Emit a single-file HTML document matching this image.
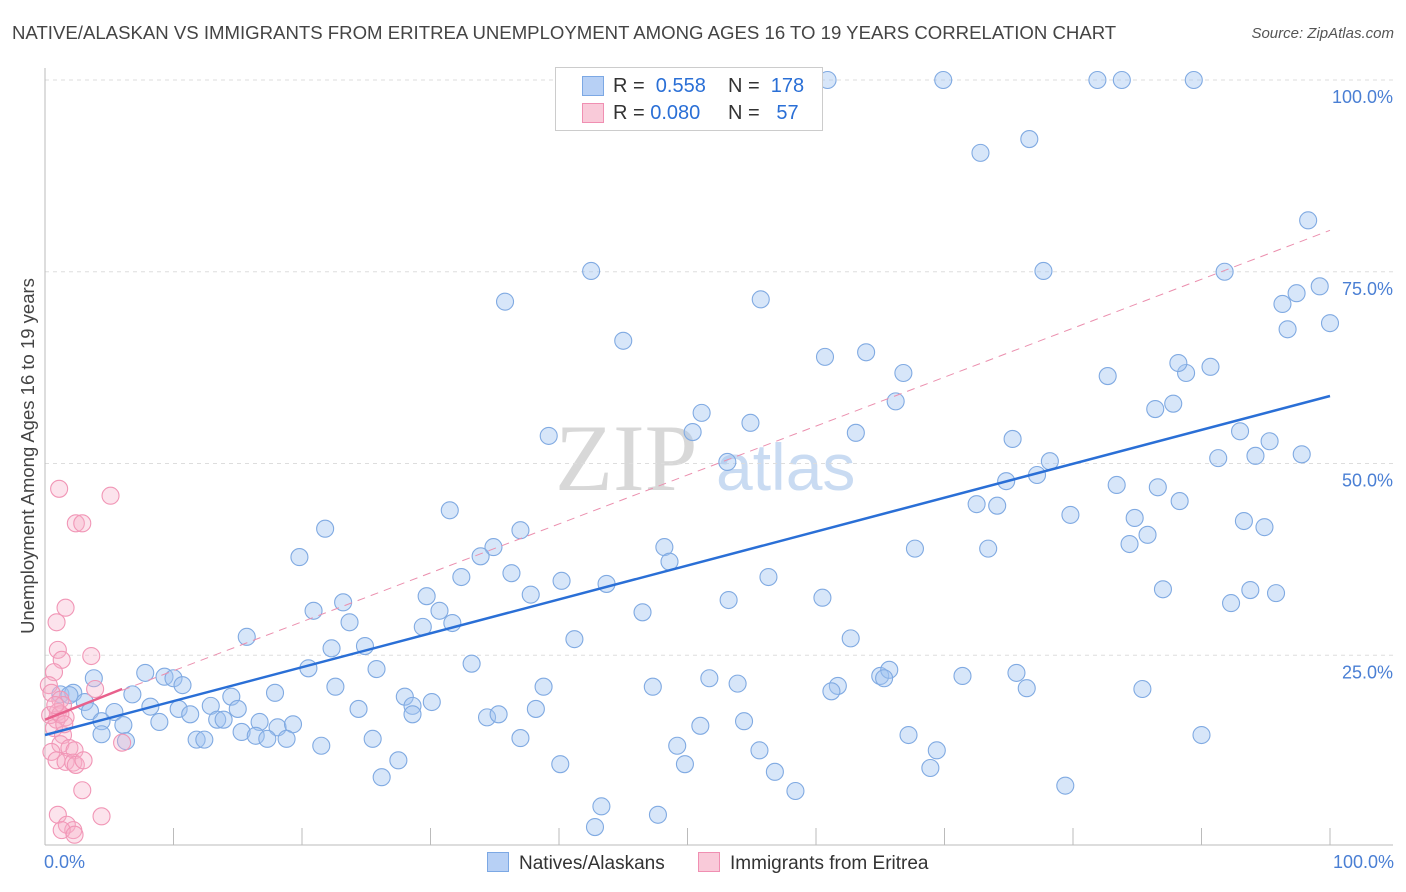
<!DOCTYPE html>
<html><head><meta charset="utf-8"><style>
body{margin:0;background:#fff;font-family:"Liberation Sans",sans-serif;}
#wrap{position:relative;width:1406px;height:892px;overflow:hidden;}
.t{position:absolute;white-space:nowrap;}
</style></head><body>
<div id="wrap">
<div class="t" style="left:12px;top:22px;font-size:18.6px;color:#444;">NATIVE/ALASKAN VS IMMIGRANTS FROM ERITREA UNEMPLOYMENT AMONG AGES 16 TO 19 YEARS CORRELATION CHART</div>
<div class="t" style="right:12px;top:25px;font-size:15px;color:#555;font-style:italic;">Source: ZipAtlas.com</div>
<svg id="plot" width="1406" height="892" style="position:absolute;left:0;top:0"></svg>
</div>
<script>
const xTicks=[0,10,20,30,40,50,60,70,80,90,100];
const yTicks=[25,50,75,100];
const yTickLabels=["25.0%","50.0%","75.0%","100.0%"];
const blueX=[42.5,35.8,45.0,55.7,69.9,81.9,83.8,89.4,72.8,76.6,98.3,77.7,91.8,99.2,97.4,96.3,96.7,100,60.7,63.9,66.8,66.2,82.7,88.8,88.2,90.7,87.8,86.4,51.1,50.4,54.9,53.1,39.2,63.1,75.3,78.2,77.2,74.8,93.0,95.3,91.3,94.2,97.8,83.4,86.6,88.3,72.5,74.1,79.8,84.8,84.4,85.8,93.3,94.9,67.7,73.4,31.5,37.0,34.9,33.9,21.8,19.8,48.2,48.6,32.4,36.3,40.2,43.7,56.3,53.2,60.5,87.0,92.3,93.8,95.8,23.2,20.9,29.7,30.7,37.8,31.7,29.4,23.7,46.5,41.2,15.7,22.3,24.9,62.7,33.2,25.8,20.5,7.8,9.3,10.0,3.8,10.7,17.9,22.6,38.8,47.3,51.7,53.9,61.7,61.2,65.0,65.7,65.3,71.4,75.6,76.4,85.4,6.8,1.2,2.2,1.9,3.1,3.5,5.4,8.2,10.4,11.3,12.9,14.5,15.0,24.4,28.0,28.6,28.6,30.1,38.2,34.4,35.3,13.4,13.9,6.1,4.4,8.9,16.7,18.1,19.3,15.3,4.4,6.3,11.8,12.4,16.4,17.3,18.8,21.5,25.5,37.0,49.2,55.6,51.0,54.4,67.2,69.4,90.0,27.5,26.2,40.1,49.8,56.8,68.9,58.4,79.4,43.3,42.8,47.7,52.2,60.9];
const blueY=[75.1,71.1,66.0,71.4,100,100,100,100,90.5,92.3,81.7,75.1,75.0,73.1,72.2,70.8,67.5,68.3,63.9,64.5,61.8,58.1,61.4,61.8,63.1,62.6,57.8,57.1,56.6,54.1,55.3,50.2,53.6,54.0,53.2,50.3,48.5,47.7,54.2,52.9,50.7,51.0,51.2,47.2,46.9,45.1,44.7,44.5,43.3,42.9,39.5,40.7,42.5,41.7,38.9,38.9,43.9,41.3,39.1,37.9,41.5,37.8,39.1,37.2,35.2,35.7,34.7,34.3,35.2,32.2,32.5,33.6,31.8,33.5,33.1,31.9,30.8,32.7,30.8,32.9,29.2,28.7,29.3,30.6,27.1,27.4,25.9,26.2,27.2,23.9,23.2,23.3,22.7,22.2,22.0,22.0,21.1,20.1,20.9,20.9,20.9,22.0,21.3,21.0,20.3,22.3,23.1,22.0,22.3,22.7,20.7,20.6,19.9,19.9,20.1,19.8,18.9,17.7,17.6,18.3,18.0,17.3,18.4,19.6,18.0,18.0,19.6,18.4,17.3,18.9,18.0,16.9,17.3,16.6,16.6,15.9,16.4,16.3,16.3,15.6,16.0,15.0,14.7,13.8,14.0,14.0,14.5,14.1,14.1,13.2,14.1,14.2,13.2,12.6,15.8,16.4,14.6,12.6,14.6,11.3,9.1,10.8,10.8,9.8,10.3,7.3,8.0,5.3,2.6,4.2,100,100];
const pinkX=[1.1,5.1,2.4,2.9,1.6,0.9,1.0,1.3,3.6,0.7,0.3,3.9,0.5,1.2,1.4,1.0,1.6,0.9,0.4,0.7,1.4,1.2,1.9,2.3,0.5,0.9,1.6,2.2,2.4,3.0,6.0,2.9,1.0,4.4,1.7,2.2,1.3,2.3,1.2,0.8,1.5];
const pinkY=[46.7,45.8,42.2,42.2,31.2,29.3,25.7,24.4,24.9,22.8,21.1,20.6,20.1,19.2,18.5,17.6,16.9,16.6,17.2,15.5,14.6,13.4,12.9,12.6,12.4,11.3,11.1,11.0,10.7,11.3,13.6,7.4,4.2,4.0,2.9,2.2,2.2,1.6,17.3,18.5,16.0];
const blueLine=[14.6,58.8];
const pinkSolid=[16.6,20.6,6];
const pinkDash=[16.6,80.4];

const NS="http://www.w3.org/2000/svg";
const svg=document.getElementById('plot');
const X0=45,X1=1330,Y0=847,Y100=80;
const sx=v=>X0+v*(X1-X0)/100;
const sy=v=>Y0-v*(Y0-Y100)/100;
function mk(tag,attrs){const e=document.createElementNS(NS,tag);for(const k in attrs)e.setAttribute(k,attrs[k]);svg.appendChild(e);return e;}

let wm=mk('text',{x:555,y:490,'font-size':95,fill:'#d8d8d8','font-family':'Liberation Serif, serif'});
wm.textContent='ZIP';


let wm2=mk('text',{x:716,y:490,'font-size':66,fill:'#c9dbf2','font-family':'Liberation Sans, sans-serif'});
wm2.textContent='atlas';



yTicks.forEach((v,i)=>{
  const g=mk('line',{x1:X0,x2:1393,y1:sy(v),y2:sy(v),stroke:'#ddd','stroke-dasharray':'4,4'});
  
  
  const t=mk('text',{x:1393,y:sy(v)+23,'text-anchor':'end','font-size':18,fill:'#4a7fd4'});
  t.textContent=yTickLabels[i];
  
  
});
let ax=mk('line',{x1:X0,x2:X0,y1:68,y2:845,stroke:'#bbb'});


let bx=mk('line',{x1:X0,x2:1393,y1:845,y2:845,stroke:'#bbb'});


xTicks.forEach(v=>{
  const l=mk('line',{x1:sx(v),x2:sx(v),y1:828,y2:845,stroke:'#bbb'});
  
  
});

blueX.forEach((x,i)=>{
  const c=mk('circle',{cx:sx(x),cy:sy(blueY[i]),r:8.5,fill:'rgba(160,195,240,0.42)',stroke:'#80aae2','stroke-width':1.1});
  
  
});
pinkX.forEach((x,i)=>{
  const c=mk('circle',{cx:sx(x),cy:sy(pinkY[i]),r:8.5,fill:'rgba(247,175,200,0.35)',stroke:'#f196b6','stroke-width':1.1});
  
  
});
let pd=mk('line',{x1:sx(pinkSolid[2]),y1:sy(pinkSolid[0]+(pinkDash[1]-pinkDash[0])*pinkSolid[2]/100),x2:sx(100),y2:sy(pinkDash[1]),stroke:'#eb8fae','stroke-width':1,'stroke-dasharray':'8,6'});


let bl=mk('line',{x1:sx(0),y1:sy(blueLine[0]),x2:sx(100),y2:sy(blueLine[1]),stroke:'#2a6fd6','stroke-width':2.5});


let ps=mk('line',{x1:sx(0),y1:sy(pinkSolid[0]),x2:sx(pinkSolid[2]),y2:sy(pinkSolid[1]),stroke:'#e8608c','stroke-width':2.5});


</script>
<div class="t" style="left:-172px;top:445px;width:400px;text-align:center;transform:rotate(-90deg);font-size:18.5px;color:#444;">Unemployment Among Ages 16 to 19 years</div>
<div class="t" style="left:44px;top:852px;font-size:18px;color:#4a7fd4;">0.0%</div>
<div class="t" style="right:12px;top:852px;font-size:18px;color:#4a7fd4;">100.0%</div>
<div style="position:absolute;left:555px;top:67px;width:266px;height:62px;border:1px solid #ccc;background:#fff;font-size:20px;">
 <div style="position:absolute;left:26px;top:8px;width:20px;height:18px;background:#b7d0f5;border:1px solid #7ca8e4;"></div>
 <div class="t" style="left:57px;top:7px;color:#333;">R = <span style="color:#2a6fd6">&nbsp;0.558</span></div>
 <div class="t" style="left:172px;top:7px;color:#333;">N = <span style="color:#2a6fd6">&nbsp;178</span></div>
 <div style="position:absolute;left:26px;top:35px;width:20px;height:18px;background:#f9cad9;border:1px solid #f08fb2;"></div>
 <div class="t" style="left:57px;top:34px;color:#333;">R = <span style="color:#2a6fd6">0.080</span></div>
 <div class="t" style="left:172px;top:34px;color:#333;">N = <span style="color:#2a6fd6">&nbsp;&nbsp;57</span></div>
</div>
<div style="position:absolute;left:487px;top:852px;font-size:19px;color:#333;">
 <span style="display:inline-block;"><span style="display:inline-block;width:20px;height:18px;background:#b7d0f5;border:1px solid #7ca8e4;vertical-align:-3px;margin-right:10px;"></span>Natives/Alaskans</span>
 <span style="display:inline-block;margin-left:28px;"><span style="display:inline-block;width:20px;height:18px;background:#f9cad9;border:1px solid #f08fb2;vertical-align:-3px;margin-right:10px;"></span>Immigrants from Eritrea</span>
</div>
</body></html>
